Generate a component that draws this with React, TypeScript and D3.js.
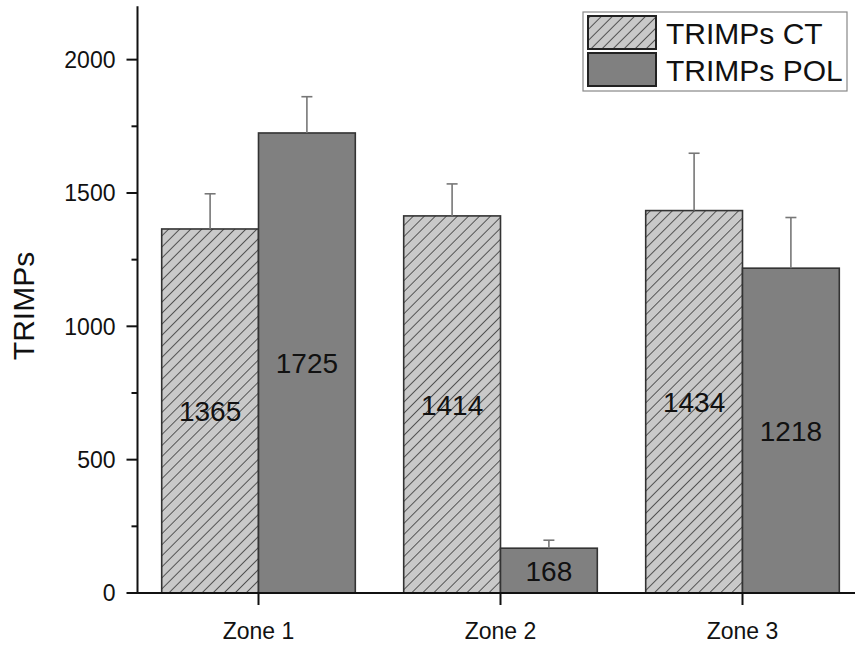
import React, { useEffect, useRef } from 'react';
import * as d3 from 'd3';

const zones = ['Zone 1', 'Zone 2', 'Zone 3'];
const seriesNames = ['TRIMPs CT', 'TRIMPs POL'];
const ctValues = [1365, 1414, 1434];
const polValues = [1725, 168, 1218];
const ctErrors = [132, 120, 215];
const polErrors = [136, 30, 190];
const yTicks = [0, 500, 1000, 1500, 2000];
const yMinorTicks = [250, 750, 1250, 1750];

export default function App() {
  const ref = useRef<SVGSVGElement>(null);

  useEffect(() => {
    const svg = d3.select(ref.current);
    svg.selectAll('*').remove();
    const font = 'Liberation Sans, Arial, sans-serif';

    const left = 137.5;
    const right = 863.5;
    const bottom = 593;

    const y = d3.scaleLinear().domain([0, 2200]).range([bottom, 6.3]);
    const x0 = d3.scaleBand().domain(zones).range([left, right]).paddingInner(0.2).paddingOuter(0.1);
    const x1 = d3.scaleBand().domain(seriesNames).range([0, x0.bandwidth()]);

    // hatch pattern
    const defs = svg.append('defs');
    const pat = defs.append('pattern')
      .attr('id', 'hatch')
      .attr('patternUnits', 'userSpaceOnUse')
      .attr('width', 7.8)
      .attr('height', 7.8)
      .attr('patternTransform', 'rotate(45)');
    pat.append('rect').attr('width', 7.8).attr('height', 7.8).attr('fill', '#c9c9c9');
    pat.append('line').attr('x1', 0).attr('y1', 0).attr('x2', 0).attr('y2', 7.8)
      .attr('stroke', '#222').attr('stroke-width', 1.4);

    const fills: Record<string, string> = { 'TRIMPs CT': 'url(#hatch)', 'TRIMPs POL': '#808080' };

    const rows = zones.flatMap((z, i) => [
      { zone: z, series: seriesNames[0], value: ctValues[i], err: ctErrors[i] },
      { zone: z, series: seriesNames[1], value: polValues[i], err: polErrors[i] },
    ]);

    const g = svg.append('g');

    // bars
    g.selectAll('.bar')
      .data(rows)
      .enter().append('rect')
      .attr('x', d => x0(d.zone)! + x1(d.series)!)
      .attr('y', d => y(d.value))
      .attr('width', x1.bandwidth())
      .attr('height', d => bottom - y(d.value))
      .attr('fill', d => fills[d.series])
      .attr('stroke', '#333')
      .attr('stroke-width', 1.6);

    // error bars
    const eb = g.selectAll('.err').data(rows).enter().append('g')
      .attr('transform', d => `translate(${x0(d.zone)! + x1(d.series)! + x1.bandwidth() / 2},0)`);
    eb.append('line')
      .attr('y1', d => y(d.value)).attr('y2', d => y(d.value + d.err))
      .attr('stroke', '#777').attr('stroke-width', 1.6);
    eb.append('line')
      .attr('x1', -5.5).attr('x2', 5.5)
      .attr('y1', d => y(d.value + d.err)).attr('y2', d => y(d.value + d.err))
      .attr('stroke', '#777').attr('stroke-width', 1.6);

    // value labels
    g.selectAll('.lbl').data(rows).enter().append('text')
      .attr('x', d => x0(d.zone)! + x1(d.series)! + x1.bandwidth() / 2)
      .attr('y', d => y(d.value / 2))
      .attr('dy', '0.36em')
      .attr('text-anchor', 'middle')
      .attr('font-family', font)
      .attr('font-size', 28)
      .attr('fill', '#111')
      .text(d => d.value);

    // y axis
    g.append('line').attr('x1', left).attr('x2', left).attr('y1', y(2200)).attr('y2', bottom + 1)
      .attr('stroke', '#111').attr('stroke-width', 2);
    g.selectAll('.ytick').data(yTicks).enter().append('line')
      .attr('x1', left - 11).attr('x2', left).attr('y1', d => y(d)).attr('y2', d => y(d))
      .attr('stroke', '#111').attr('stroke-width', 2);
    g.selectAll('.yminor').data(yMinorTicks).enter().append('line')
      .attr('x1', left - 6).attr('x2', left).attr('y1', d => y(d)).attr('y2', d => y(d))
      .attr('stroke', '#111').attr('stroke-width', 2);
    g.selectAll('.ylab').data(yTicks).enter().append('text')
      .attr('x', left - 22).attr('y', d => y(d)).attr('dy', '0.36em')
      .attr('text-anchor', 'end')
      .attr('font-family', font).attr('font-size', 23).attr('fill', '#111')
      .text(d => d);

    g.append('text')
      .attr('transform', `translate(34,306) rotate(-90)`)
      .attr('text-anchor', 'middle')
      .attr('font-family', font).attr('font-size', 30).attr('fill', '#111')
      .text('TRIMPs');

    // x axis
    g.append('line').attr('x1', left - 1).attr('x2', right).attr('y1', bottom).attr('y2', bottom)
      .attr('stroke', '#111').attr('stroke-width', 2);
    g.selectAll('.xtick').data(zones).enter().append('line')
      .attr('x1', d => x0(d)! + x0.bandwidth() / 2).attr('x2', d => x0(d)! + x0.bandwidth() / 2)
      .attr('y1', bottom).attr('y2', bottom + 12)
      .attr('stroke', '#111').attr('stroke-width', 2);
    g.selectAll('.xlab').data(zones).enter().append('text')
      .attr('x', d => x0(d)! + x0.bandwidth() / 2).attr('y', 639)
      .attr('text-anchor', 'middle')
      .attr('font-family', font).attr('font-size', 23).attr('fill', '#111')
      .text(d => d);

    // legend
    const lg = svg.append('g').attr('transform', 'translate(583,12)');
    lg.append('rect').attr('width', 264).attr('height', 79)
      .attr('fill', '#fff').attr('stroke', '#888').attr('stroke-width', 1.2);
    seriesNames.forEach((s, i) => {
      lg.append('rect').attr('x', 5).attr('y', 4 + i * 37).attr('width', 68).attr('height', 33)
        .attr('fill', fills[s]).attr('stroke', '#222').attr('stroke-width', 2);
      lg.append('text').attr('x', 83).attr('y', 21 + i * 37).attr('dy', '0.36em')
        .attr('font-family', font).attr('font-size', 30).attr('fill', '#111')
        .text(s);
    });
  }, []);

  return (
    <svg ref={ref} width="855" height="646" style={{ position: 'absolute', left: 0, top: 0, background: '#fff' }} />
  );
}
